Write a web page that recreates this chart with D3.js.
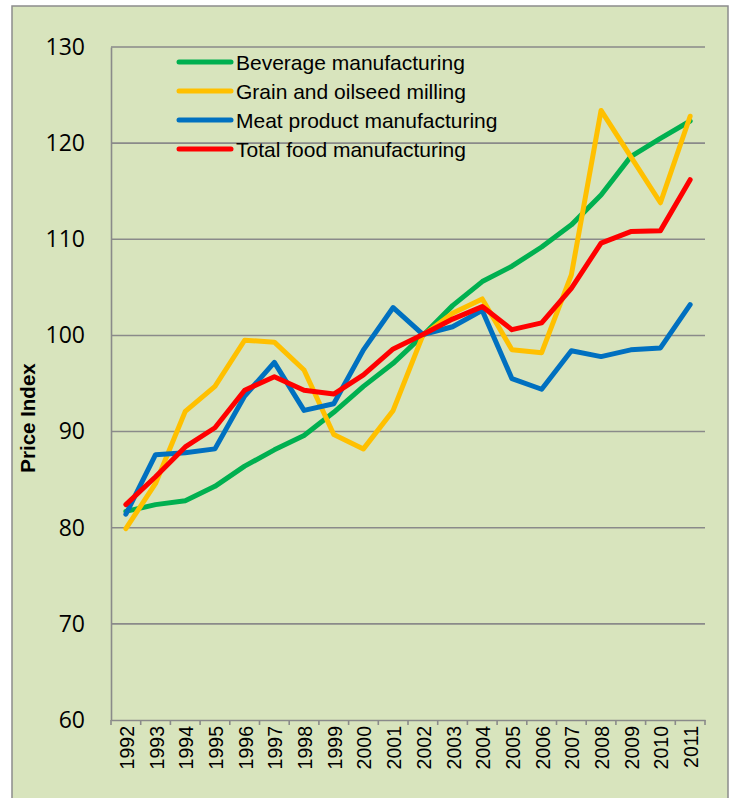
<!DOCTYPE html>
<html>
<head>
<meta charset="utf-8">
<script src="https://cdn.jsdelivr.net/npm/d3@7"></script>
<style>
  html, body { margin: 0; padding: 0; background: #fff; }
  svg { display: block; }
</style>
</head>
<body>
<div id="chart"></div>
<script>
// data
const years = ["1992","1993","1994","1995","1996","1997","1998","1999","2000","2001",
               "2002","2003","2004","2005","2006","2007","2008","2009","2010","2011"];
const beverage = [81.7,82.4,82.8,84.3,86.4,88.1,89.6,92.0,94.7,97.1,100.0,103.1,105.6,107.2,109.2,111.5,114.6,118.6,120.5,122.3];
const grain    = [79.9,84.6,92.1,94.7,99.5,99.3,96.4,89.7,88.2,92.2,100.0,102.3,103.8,98.5,98.2,106.3,123.4,118.6,113.8,122.8];
const meat     = [81.4,87.6,87.8,88.2,93.7,97.2,92.2,92.9,98.5,102.9,100.1,100.9,102.6,95.5,94.4,98.4,97.8,98.5,98.7,103.2];
const total    = [82.4,85.3,88.4,90.4,94.3,95.7,94.3,93.9,95.9,98.6,100.1,101.7,103.0,100.6,101.3,104.9,109.6,110.8,110.9,116.2];
const seriesNames = ["Beverage manufacturing","Grain and oilseed milling","Meat product manufacturing","Total food manufacturing"];
const yTicks = [60,70,80,90,100,110,120,130];

const colors = ["#00B050","#FFC000","#0070C0","#FF0000"];
const series = [beverage, grain, meat, total].map((v,i)=>({name: seriesNames[i], values: v, color: colors[i]}));

const width = 732, height = 798;
const margin = {top: 47, right: 27, bottom: 78, left: 111};

const svg = d3.select("#chart").append("svg")
    .attr("width", width).attr("height", height);

// outer frame
svg.append("rect")
    .attr("x", 12).attr("y", 6)
    .attr("width", 716).attr("height", 800)
    .attr("fill", "#D8E4BD")
    .attr("stroke", "#8c8c8c")
    .attr("stroke-width", 1.5);

const x = d3.scaleBand()
    .domain(years)
    .range([margin.left, width - margin.right]);

const y = d3.scaleLinear()
    .domain([60, 130])
    .range([height - margin.bottom, margin.top]);

// gridlines
svg.append("g")
    .selectAll("line")
    .data(yTicks.slice(1))
    .enter()
    .append("line")
    .attr("x1", margin.left).attr("x2", width - margin.right)
    .attr("y1", d=>y(d)).attr("y2", d=>y(d))
    .attr("stroke", "#8a8a8a")
    .attr("stroke-width", 1.6);

// y axis
const axisy = d3.axisLeft(y).tickValues(yTicks).tickSize(0).tickPadding(26);
const gy = svg.append("g")
    .attr("transform", "translate(" + margin.left + ",0)")
    .call(axisy);
gy.select(".domain").attr("stroke", "#8a8a8a").attr("stroke-width", 1.6);
gy.selectAll("text")
    .attr("font-family", "'Open Sans', sans-serif")
    .attr("font-size", "23px")
    .attr("fill", "#000");

// x axis
const axisx = d3.axisBottom(x).tickSize(0);
const gx = svg.append("g")
    .attr("transform", "translate(0," + y(60) + ")")
    .call(axisx);
gx.select(".domain").attr("stroke", "#8a8a8a").attr("stroke-width", 1.6);
gx.selectAll(".tick line").remove();
gx.selectAll(".tick text")
    .attr("font-family", "'Liberation Sans', Arial, sans-serif")
    .attr("font-size", "19.5px")
    .attr("fill", "#000")
    .attr("text-anchor", "end")
    .attr("dy", "0.36em")
    .attr("transform", "translate(1,6) rotate(-90)")
    .attr("x", 0).attr("y", 0);

// category tick marks on the boundaries
svg.append("g")
    .selectAll("line")
    .data(years.concat(["end"]))
    .enter()
    .append("line")
    .attr("x1", (d,i)=> margin.left + i * x.step())
    .attr("x2", (d,i)=> margin.left + i * x.step())
    .attr("y1", y(60)).attr("y2", y(60) + 5)
    .attr("stroke", "#8a8a8a")
    .attr("stroke-width", 1.6);

// y label
svg.append("text")
    .attr("transform", "translate(35,418) rotate(-90)")
    .attr("text-anchor", "middle")
    .attr("font-family", "'Liberation Sans', Arial, sans-serif")
    .attr("font-weight", "bold")
    .attr("font-size", "20.5px")
    .text("Price Index");

// lines
const line = d3.line()
    .x((d,i)=> x(years[i]) + x.bandwidth() / 2)
    .y(d=> y(d));

svg.append("g")
    .selectAll("path")
    .data(series)
    .enter()
    .append("path")
    .attr("d", d=> line(d.values))
    .attr("fill", "none")
    .attr("stroke", d=> d.color)
    .attr("stroke-width", 5)
    .attr("stroke-linejoin", "round")
    .attr("stroke-linecap", "round");

// legend
const legend = svg.append("g")
    .selectAll("g")
    .data(series)
    .enter()
    .append("g")
    .attr("transform", (d,i)=> "translate(177," + (62 + i * 29) + ")");

legend.append("line")
    .attr("x1", 2).attr("x2", 54)
    .attr("stroke", d=> d.color)
    .attr("stroke-width", 5)
    .attr("stroke-linecap", "round");

legend.append("text")
    .attr("x", 59)
    .attr("y", 8)
    .attr("font-family", "'Liberation Sans', Arial, sans-serif")
    .attr("font-size", "21px")
    .attr("fill", "#000")
    .text(d=> d.name);
</script>
</body>
</html>
